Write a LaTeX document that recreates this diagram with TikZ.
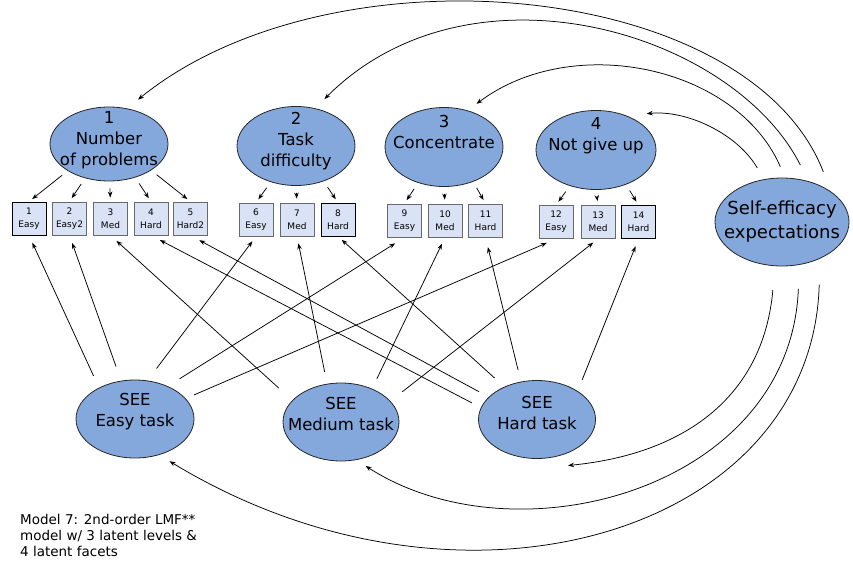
\documentclass[tikz,border=0pt]{standalone}
\usepackage{fontspec}
\setmainfont{DejaVu Sans}
\usetikzlibrary{arrows.meta,shapes.geometric}
\definecolor{latentblue}{RGB}{132,168,219}
\definecolor{itemfill}{RGB}{217,227,245}
\definecolor{itemedge}{RGB}{105,105,105}
% centred multi-line label of no size, raised by #1 pt, so the ellipse keeps its set size
\newcommand{\lifted}[2]{\smash{\makebox[0pt]{\raisebox{#1pt}{\begin{tabular}{@{}c@{}}#2\end{tabular}}}}}
\begin{document}
\begin{tikzpicture}[x=1pt,y=-1pt,
  latent/.style={ellipse, draw=black!85, line width=0.8pt, fill=latentblue,
    inner sep=0pt, minimum width=118pt, minimum height=79pt,
    font=\fontsize{16.5}{21}\selectfont},
  item/.style={rectangle, draw=itemedge, line width=0.9pt, fill=itemfill,
    minimum width=34pt, minimum height=33pt, inner sep=0pt,
    font=\fontsize{9}{13}\selectfont, align=center},
  itemdark/.style={item, draw=black},
  arr/.style={-{Stealth[length=6pt,width=4.5pt]}, line width=0.75pt},
]
\useasboundingbox (0,0) rectangle (853,570);

% first-order facets
\node[latent, minimum height=74pt] (e1) at (109,144) {\lifted{-1}{1\\Number\\of problems}};
\node[latent] (e2) at (296,146) {\lifted{0}{2\\Task\\difficulty}};
\node[latent] (e3) at (444,147) {\lifted{8.5}{3\\Concentrate}};
\node[latent, minimum width=120pt] (e4) at (596,150) {\lifted{10}{4\\Not give up}};

% general factor
\node[latent, minimum width=134pt, minimum height=88pt, font=\fontsize{18}{24}\selectfont]
  (se) at (782,222) {\lifted{-4}{Self-efficacy\\expectations}};

% task levels
\node[latent, minimum height=78pt] (easy) at (135,419) {\lifted{3}{SEE\\Easy task}};
\node[latent, minimum width=116pt, minimum height=78pt] (medium) at (341,422) {\lifted{2}{SEE\\Medium task}};
\node[latent, minimum width=117pt, minimum height=78pt] (hard) at (537,419.5) {\lifted{0}{SEE\\Hard task}};

% indicators
\node[itemdark] (b1) at (29,218.5) {1\\Easy};
\node[item] (b2) at (69.5,218.5) {2\\Easy2};
\node[item] (b3) at (110.5,218.5) {3\\Med};
\node[item] (b4) at (151,218.5) {4\\Hard};
\node[item] (b5) at (190.5,218.5) {5\\Hard2};
\node[item] (b6) at (256,219.5) {6\\Easy};
\node[item] (b7) at (297,219.5) {7\\Med};
\node[itemdark] (b8) at (338,219.5) {8\\Hard};
\node[item] (b9) at (404.5,220.5) {9\\Easy};
\node[item] (b10) at (445,220.5) {10\\Med};
\node[item] (b11) at (485.5,220.5) {11\\Hard};
\node[item] (b12) at (556,222) {12\\Easy};
\node[item] (b13) at (598,222) {13\\Med};
\node[itemdark] (b14) at (638.5,222) {14\\Hard};

% facet loadings
\begin{scope}[arr, shorten <=7pt, shorten >=4pt]
\draw (e1.213) -- (b1.north);
\draw (e1.235) -- (b2.north);
\draw (e1.271) -- (b3.north);
\draw (e1.308) -- (b4.north);
\draw (e1.328) -- (b5.north);
\draw (e2.235) -- (b6.north);
\draw (e2.270) -- (b7.north);
\draw (e2.308) -- (b8.north);
\draw (e3.234) -- (b9.north);
\draw (e3.270) -- (b10.north);
\draw (e3.310) -- (b11.north);
\draw (e4.234) -- (b12.north);
\draw (e4.270) -- (b13.north);
\draw (e4.311) -- (b14.north);
\end{scope}

% level loadings
\draw[arr, shorten <=13pt, shorten >=8pt] (easy.139) -- (b1.south);
\draw[arr, shorten <=15pt, shorten >=8pt] (easy.110) -- (b2.south);
\draw[arr, shorten <=15pt, shorten >=6pt] (easy.72) -- (b6.south);
\draw[arr, shorten <=14pt, shorten >=11pt] (easy.45) -- (b9.south);
\draw[arr, shorten <=9pt, shorten >=10pt] (easy.22) -- (b12.south);
\draw[arr, shorten <=18pt, shorten >=8pt] (medium.156) -- (b3.south);
\draw[arr, shorten <=12pt, shorten >=7pt] (medium.110) -- (b7.south);
\draw[arr, shorten <=11pt, shorten >=7pt] (medium.47) -- (b10.south);
\draw[arr, shorten <=15pt, shorten >=6pt] (medium.23) -- (b13.south);
\draw[arr, shorten <=10pt, shorten >=10pt] (hard.168) -- (b4.south);
\draw[arr, shorten <=11pt, shorten >=10pt] (hard.155) -- (b5.south);
\draw[arr, shorten <=13pt, shorten >=5pt] (hard.135) -- (b8.south);
\draw[arr, shorten <=12pt, shorten >=10pt] (hard.113) -- (b11.south);
\draw[arr, shorten <=12pt, shorten >=8pt] (hard.35) -- (b14.south);

% second-order paths to the facets
\draw[arr, shorten <=21pt, shorten >=14pt] (se.32) .. controls +(-82,-212) and +(205,-166) .. (e1.63);
\draw[arr, shorten <=18pt, shorten >=13pt] (se.57) .. controls +(-75.6,-149.5) and +(155,-155) .. (e2.63);
\draw[arr, shorten <=12pt, shorten >=11pt] (se.86) .. controls +(-48.8,-112) and +(104.8,-78.6) .. (e3.57);
\draw[arr, shorten <=13pt, shorten >=20pt] (se.113) .. controls +(-26.5,-45.6) and +(59.7,-6) .. (e4.48);

% second-order paths to the task levels
\draw[arr, shorten <=24pt] (se.261) .. controls +(-12,133.5) and +(113,-11) .. ([shift={(31,46)}]hard.center);
\draw[arr, shorten <=24pt, shorten >=11pt] (se.292) .. controls +(-9,224) and +(160.4,103.1) .. (medium.292);
\draw[arr, shorten <=26pt, shorten >=12pt] (se.316) .. controls +(-8,276) and +(301,183) .. (easy.304);

% model note
\node[anchor=north west, align=left, inner sep=0pt, font=\fontsize{13.5}{16}\selectfont]
  (note) at (20,514) {Model 7: 2nd-order LMF**\\model w/ 3 latent levels \&\\4 latent facets};
\end{tikzpicture}
\end{document}
